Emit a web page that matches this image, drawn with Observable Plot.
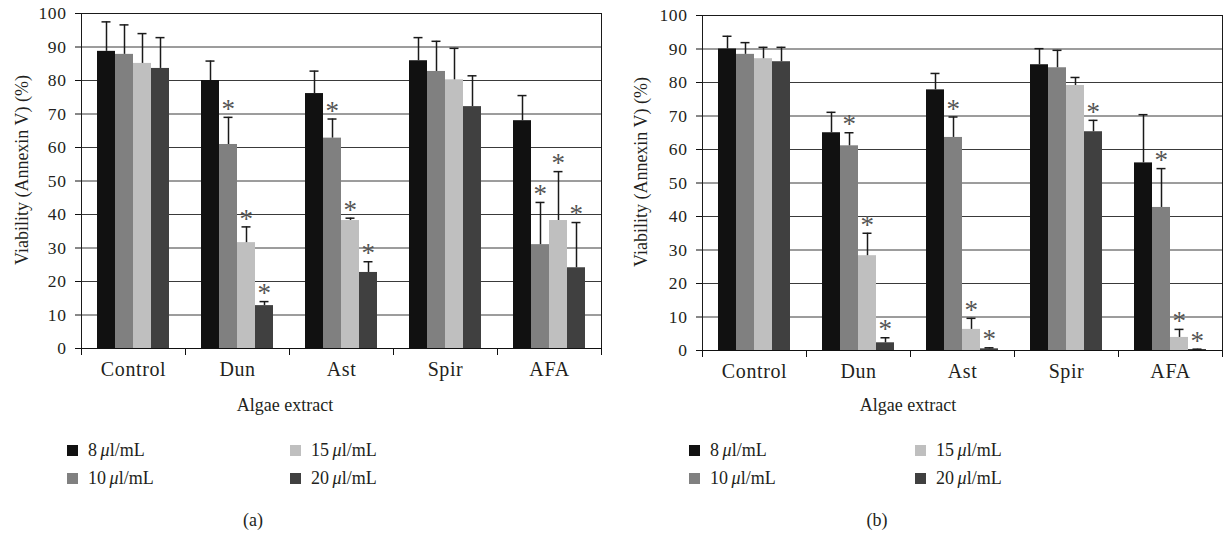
<!DOCTYPE html>
<html>
<head>
<meta charset="utf-8">
<script src="https://cdn.jsdelivr.net/npm/d3@7"></script>
<script src="https://cdn.jsdelivr.net/npm/@observablehq/plot@0.6"></script>
<style>
  body { margin: 0; background: #fff; }
  #root { position: relative; width: 1224px; height: 535px; overflow: hidden; font-family: "Liberation Serif", serif; color: #231f20; background: #fff; }
  .panel { position: absolute; top: 0; width: 612px; height: 535px; }
  .panel svg { position: absolute; left: 0; top: 0; }
  .panel svg text { letter-spacing: 0.6px; }
  .t { position: absolute; white-space: nowrap; font-size: 17px; line-height: 1; }
  .c { transform: translate(-50%, -50%); }
  .sw { position: absolute; width: 11px; height: 11px; }
</style>
</head>
<body>
<div id="root"></div>
<script>
// ---------- data ----------
const categories = ["Control", "Dun", "Ast", "Spir", "AFA"];
const doses = ["8 μl/mL", "10 μl/mL", "15 μl/mL", "20 μl/mL"];
const doseColors = ["#111111", "#808080", "#bfbfbf", "#404040"];
const yTicks = [0, 10, 20, 30, 40, 50, 60, 70, 80, 90, 100];

// Panel (a): means per dose across categories
const aMean8  = [88.7, 80.0, 76.1, 85.9, 68.0];
const aMean10 = [87.8, 60.9, 62.8, 82.7, 31.0];
const aMean15 = [85.1, 31.6, 38.2, 80.2, 38.2];
const aMean20 = [83.6, 12.8, 22.7, 72.2, 24.1];
// Panel (a): error (upper whisker length)
const aErr8  = [8.8, 5.8, 6.7, 6.9, 7.5];
const aErr10 = [8.8, 8.1, 5.7, 9.0, 12.6];
const aErr15 = [8.9, 4.7, 0.7, 9.4, 14.6];
const aErr20 = [9.2, 1.2, 3.2, 9.2, 13.5];
// Panel (a): significance stars
const aSig8  = [0, 0, 0, 0, 0];
const aSig10 = [0, 1, 1, 0, 1];
const aSig15 = [0, 1, 1, 0, 1];
const aSig20 = [0, 1, 1, 0, 1];

// Panel (b)
const bMean8  = [90.0, 65.0, 77.8, 85.3, 56.0];
const bMean10 = [88.4, 61.1, 63.6, 84.4, 42.7];
const bMean15 = [87.1, 28.3, 6.3, 79.1, 3.9];
const bMean20 = [86.2, 2.3, 0.5, 65.3, 0.3];
const bErr8  = [3.8, 6.1, 4.9, 4.8, 14.4];
const bErr10 = [3.5, 3.9, 6.1, 5.2, 11.6];
const bErr15 = [3.4, 6.7, 3.3, 2.4, 2.4];
const bErr20 = [4.3, 1.5, 0.3, 3.4, 0.1];
const bSig8  = [0, 0, 0, 0, 0];
const bSig10 = [0, 1, 1, 0, 1];
const bSig15 = [0, 1, 1, 0, 1];
const bSig20 = [0, 1, 1, 1, 1];

function buildTable(means, errs, sigs) {
  const rows = [];
  categories.forEach((cat, i) => {
    doses.forEach((dose, j) => {
      rows.push({cat, dose, mean: means[j][i], top: means[j][i] + errs[j][i], sig: sigs[j][i]});
    });
  });
  return rows;
}

const tableA = buildTable([aMean8, aMean10, aMean15, aMean20], [aErr8, aErr10, aErr15, aErr20], [aSig8, aSig10, aSig15, aSig20]);
const tableB = buildTable([bMean8, bMean10, bMean15, bMean20], [bErr8, bErr10, bErr15, bErr20], [bSig8, bSig10, bSig15, bSig20]);

function makePlot(table, m) {
  const plotH = 420 - m.top - m.bottom;
  return Plot.plot({
    width: 612,
    height: 420,
    marginLeft: m.left,
    marginRight: m.right,
    marginTop: m.top,
    marginBottom: m.bottom,
    style: {fontFamily: "Liberation Serif, serif", fontSize: "17px", color: "#231f20", background: "transparent"},
    fx: {domain: categories, paddingInner: 0, paddingOuter: 0, label: null},
    x: {domain: doses, paddingInner: 0, paddingOuter: 0.75, axis: null},
    y: {domain: [0, 100], axis: null},
    color: {domain: doses, range: doseColors},
    marks: [
      Plot.ruleY(yTicks.slice(1), {stroke: "#3a3a3a", strokeWidth: 1}),
      Plot.barY(table, {fx: "cat", x: "dose", y: "mean", fill: "dose"}),
      Plot.ruleX(table, {fx: "cat", x: "dose", y1: "mean", y2: "top", stroke: "#1a1a1a", strokeWidth: 1.5}),
      Plot.tickY(table, {fx: "cat", x: "dose", y: "top", stroke: "#1a1a1a", strokeWidth: 1.5, insetLeft: 4.5, insetRight: 4.5}),
      Plot.text(table.filter(d => d.sig), {fx: "cat", x: "dose", y: "top", text: () => "*", fontSize: 27, fill: "#555", dy: -8}),
      Plot.frame({facet: "super", stroke: "#1a1a1a", strokeWidth: 1}),
      Plot.ruleY([0], {stroke: "#111", strokeWidth: 1.2}),
      Plot.frame({anchor: "left", insetTop: plotH, insetBottom: -6, stroke: "#111"}),
      Plot.frame({facet: "super", anchor: "right", insetTop: plotH, insetBottom: -6, stroke: "#111"}),
      Plot.axisY({ticks: yTicks, tickSize: 6, tickPadding: 9, fontSize: 17.5, stroke: "#111"}),
      Plot.axisFx({anchor: "bottom", tickSize: 0, tickPadding: 13, fontSize: 20, label: null})
    ]
  });
}

const root = document.getElementById("root");

function addText(parent, html, x, y, cls, extra) {
  const d = document.createElement("div");
  d.className = "t " + (cls || "");
  d.innerHTML = html;
  d.style.left = x + "px";
  d.style.top = y + "px";
  if (extra) Object.assign(d.style, extra);
  parent.appendChild(d);
  return d;
}

function makePanel(left, table, m, lay) {
  const p = document.createElement("div");
  p.className = "panel";
  p.style.left = left + "px";
  root.appendChild(p);
  p.appendChild(makePlot(table, m));
  // y axis title
  addText(p, "Viability (Annexin V) (%)", lay.yTitleX, lay.yTitleY, "", {transform: "translate(-50%, -50%) rotate(-90deg)", fontSize: "18px"});
  // x axis title
  addText(p, "Algae extract", lay.xTitleX, 405, "c", {fontSize: "18px"});
  // legend
  const cols = [lay.leg1, lay.leg1, lay.leg2, lay.leg2];
  const rows = [450, 478, 450, 478];
  doses.forEach((dose, i) => {
    const sw = document.createElement("div");
    sw.className = "sw";
    sw.style.left = cols[i] + "px";
    sw.style.top = (rows[i] - 5.5) + "px";
    sw.style.background = doseColors[i];
    p.appendChild(sw);
    const parts = dose.split(" ");
    const label = parts[0] + "\u2009<i>μ</i>" + parts[1].slice(1);
    addText(p, label, cols[i] + 21, rows[i], "", {transform: "translateY(-50%)", fontSize: "18px"});
  });
  addText(p, lay.caption, lay.capX, 520, "c", {fontSize: "18px"});
}

makePanel(0, tableA, {left: 79, right: 10, top: 13, bottom: 72},
  {yTitleX: 22, yTitleY: 170, xTitleX: 285, leg1: 67, leg2: 290, caption: "(a)", capX: 253});
makePanel(612, tableB, {left: 89, right: 1, top: 15, bottom: 70},
  {yTitleX: 29, yTitleY: 172, xTitleX: 296, leg1: 77, leg2: 303, caption: "(b)", capX: 265});
</script>
</body>
</html>
